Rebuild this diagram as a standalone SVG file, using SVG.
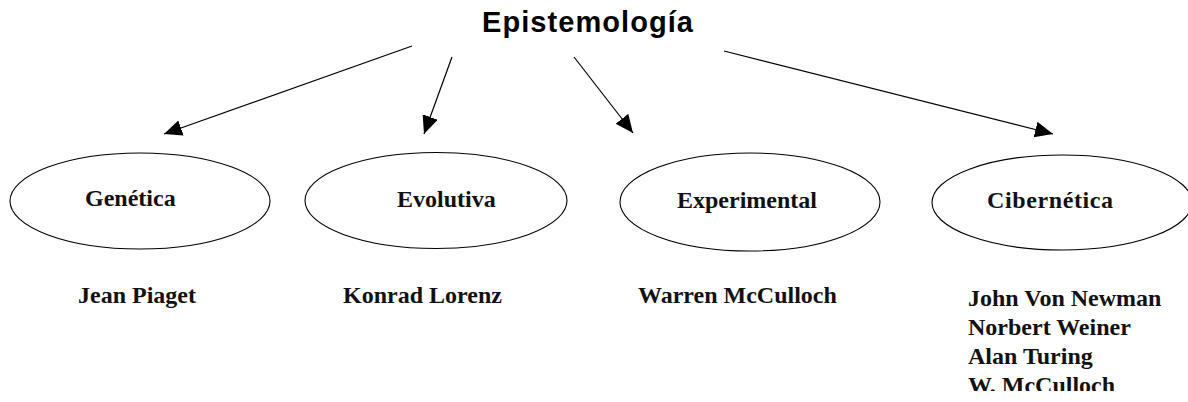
<svg xmlns="http://www.w3.org/2000/svg" width="1188" height="402" viewBox="0 0 1188 402">
<style>
.title{font-family:"Liberation Sans",Arial,sans-serif;font-weight:bold;font-size:29px;fill:#000}
.lbl{font-family:"Liberation Serif","Times New Roman",serif;font-weight:bold;font-size:24px;fill:#111}
.node ellipse{fill:#fff;stroke:#000;stroke-width:1.1}
.conn line{stroke:#000;stroke-width:1.2}
</style>
<defs>
<marker id="ah" markerUnits="userSpaceOnUse" markerWidth="20" markerHeight="18" refX="18" refY="8" orient="auto">
<path d="M0,0 L18,8 L0,16 Z" fill="#000"/>
</marker>
<clipPath id="cut"><rect x="900" y="270" width="288" height="121"/></clipPath>
</defs>
<rect width="1188" height="402" fill="#fff"/>
<g id="epistemologia">
<text class="title" x="482" y="32" textLength="211" lengthAdjust="spacing">Epistemología</text>
</g>
<g id="connectors" class="conn">
<line x1="412" y1="46" x2="164" y2="134" marker-end="url(#ah)"/>
<line x1="452" y1="57" x2="424" y2="134" marker-end="url(#ah)"/>
<line x1="574" y1="57" x2="633" y2="133" marker-end="url(#ah)"/>
<line x1="724" y1="51" x2="1053" y2="134" marker-end="url(#ah)"/>
</g>
<g id="genetica" class="node">
<ellipse cx="140" cy="201" rx="130" ry="48"/>
<text class="lbl" x="85" y="206">Genética</text>
<text class="lbl" x="78" y="303">Jean Piaget</text>
</g>
<g id="evolutiva" class="node">
<ellipse cx="436" cy="200.5" rx="131" ry="48"/>
<text class="lbl" x="397" y="207">Evolutiva</text>
<text class="lbl" x="343" y="303">Konrad Lorenz</text>
</g>
<g id="experimental" class="node">
<ellipse cx="750" cy="202" rx="130" ry="49"/>
<text class="lbl" x="677" y="207.5">Experimental</text>
<text class="lbl" x="638" y="303">Warren McCulloch</text>
</g>
<g id="cibernetica" class="node">
<ellipse cx="1062" cy="202.5" rx="130" ry="47.5"/>
<text class="lbl" x="987" y="208" textLength="126">Cibernética</text>
<g clip-path="url(#cut)">
<text class="lbl" x="968" y="306">John Von Newman</text>
<text class="lbl" x="968" y="335">Norbert Weiner</text>
<text class="lbl" x="968" y="364">Alan Turing</text>
<text class="lbl" x="968" y="393">W. McCulloch</text>
</g>
</g>
</svg>
